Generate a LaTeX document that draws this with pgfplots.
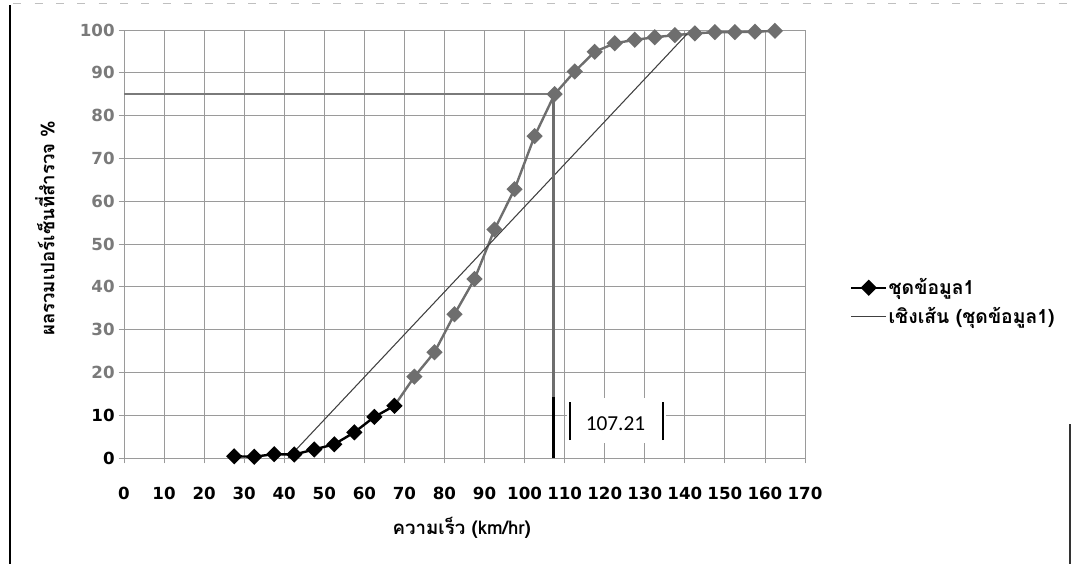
\documentclass[border=0pt]{standalone}
\usepackage{fontspec}
\setmainfont{DejaVu Sans}
\newfontfamily\thaifont[Script=Thai]{Loma}
\newfontfamily\calfont{Carlito}
\usepackage{pgfplots}
\pgfplotsset{compat=1.18}
\definecolor{sergray}{HTML}{6E6E6E}
\definecolor{gridgray}{HTML}{9A9A9A}
\definecolor{lblgray}{HTML}{7A7A7A}
\begin{document}
\begin{tikzpicture}
\path[use as bounding box] (0,0) rectangle (804pt,423pt);
\draw[line width=1pt,black] (7.5pt,0) -- (7.5pt,419pt);
\draw[line width=1pt,black!80] (802.5pt,0) -- (802.5pt,105pt);
\draw[line width=0.6pt,gray!50,dash pattern=on 6pt off 10pt] (10pt,420.5pt) -- (800pt,420.5pt);
\begin{axis}[
  at={(93pt,79.5pt)}, anchor=south west, scale only axis,
  width=510.75pt, height=321pt,
  xmin=0, xmax=170, ymin=0, ymax=100,
  xtick={0,10,...,170}, ytick={0,10,...,100},
  yticklabels={\textcolor{black}{0},\textcolor{black}{10},20,30,40,50,60,70,80,90,100},
  grid=major, major grid style={gridgray, line width=0.6pt},
  axis line style={gridgray, line width=0.6pt},
  tick style={gridgray, line width=0.6pt},
  tick align=outside, major tick length=4pt,
  xtick pos=bottom, ytick pos=left,
  /pgf/number format/assume math mode=true,
  ticklabel style={font=\bfseries\fontsize{12.5}{14}\selectfont},
  xticklabel style={yshift=-14pt, text=black},
  yticklabel style={xshift=0.5pt, text=lblgray},
  xlabel={\thaifont\bfseries ความเร็ว (km/hr)},
  ylabel={\thaifont\bfseries ผลรวมเปอร์เซ็นที่สำรวจ \%},
  every axis x label/.style={at={(axis description cs:0.496,-0.1636)}, anchor=center, font=\fontsize{14}{16}\selectfont},
  every axis y label/.style={at={(axis description cs:-0.116,0.537)}, anchor=center, rotate=90, font=\fontsize{14}{16}\selectfont},
  legend style={at={(axis description cs:1.066,0.364)}, anchor=west, draw=none, fill=none,
    font=\thaifont\bfseries\fontsize{14.5}{16}\selectfont, row sep=6pt, inner sep=0pt,
    nodes={inner sep=1pt}},
  legend cell align=left,
  legend image code/.code={\draw[mark repeat=2,mark phase=2,#1] plot coordinates {(0pt,0pt) (13pt,0pt) (26pt,0pt)};},
]
% gray part of the series
\addplot[sergray, line width=1.8pt, mark=square*, mark size=3.4pt, mark options={rotate=45, sergray}, forget plot]
 coordinates {
 (67.5,12.2) (72.5,19.0) (77.5,24.7) (82.5,33.6) (87.5,41.8) (92.5,53.4) (97.5,62.8)
 (102.5,75.2) (107.5,85.0) (112.5,90.3) (117.5,94.9) (122.5,96.9) (127.5,97.7)
 (132.5,98.3) (137.5,98.8) (142.5,99.2) (147.5,99.5) (152.5,99.5) (157.5,99.6) (162.5,99.8)
 };
% dark part of the series
\addplot[black, line width=1.8pt, mark=square*, mark size=3.4pt, mark options={rotate=45, black}]
 coordinates {
 (27.5,0.4) (32.5,0.3) (37.5,0.9) (42.5,0.8) (47.5,2.0) (52.5,3.2) (57.5,6.0)
 (62.5,9.6) (67.5,12.2)
 };
\addlegendentry{ชุดข้อมูล1}
% linear trend line
\addplot[black!75, line width=0.8pt] coordinates {(41,0) (141.5,100)};
\addlegendentry{เชิงเส้น (ชุดข้อมูล1)}
% 85th percentile guide lines
\draw[lblgray, line width=1.5pt] (axis cs:0,85) -- (axis cs:107.21,85);
\draw[sergray, line width=2.2pt] (axis cs:107.21,85) -- (axis cs:107.21,14.3);
\draw[black, line width=2.2pt] (axis cs:107.21,14.3) -- (axis cs:107.21,0);
\fill[white] (axis cs:110.6,3.5) rectangle (axis cs:135.3,14.0);
\draw[black, line width=1.5pt] (axis cs:111.3,4.2) -- (axis cs:111.3,13.2);
\draw[black, line width=1.5pt] (axis cs:134.5,4.2) -- (axis cs:134.5,13.2);
\node[font=\calfont\fontsize{16}{18}\selectfont] at (axis cs:122.7,8.1) {107.21};
\end{axis}
\end{tikzpicture}
\end{document}
